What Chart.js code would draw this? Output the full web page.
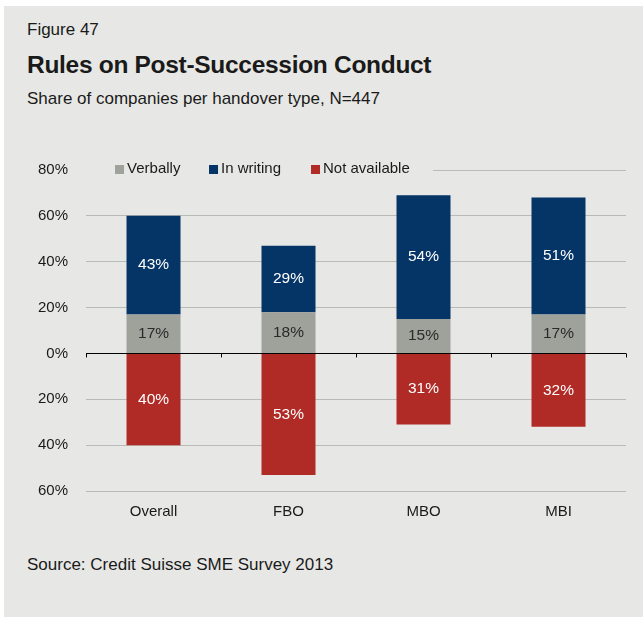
<!DOCTYPE html>
<html>
<head>
<meta charset="utf-8">
<script src="https://cdn.jsdelivr.net/npm/chart.js@4"></script>
<style>
    html, body { margin: 0; padding: 0; background: #ffffff; }
    body { width: 643px; height: 618px; position: relative; overflow: hidden; font-family: "Liberation Sans", Arial, sans-serif; color: #1a1a1a; }
    .panel { position: absolute; left: 4px; top: 6px; width: 639px; height: 611px; background: #e7e8e5; }
    .fig { position: absolute; left: 27px; top: 20px; font-size: 17px; }
    .title { position: absolute; left: 27px; top: 51px; font-size: 24.5px; font-weight: bold; letter-spacing: -0.3px; }
    .subtitle { position: absolute; left: 27px; top: 89px; font-size: 17px; }
    .source { position: absolute; left: 27px; top: 555px; font-size: 17px; }
    .chart-box { position: absolute; left: 0; top: 140px; width: 643px; height: 390px; }
</style>
</head>
<body>
<div class="panel"></div>
<div class="fig">Figure 47</div>
<div class="title">Rules on Post-Succession Conduct</div>
<div class="subtitle">Share of companies per handover type, N=447</div>
<div class="chart-box"><canvas id="chart"></canvas></div>
<div class="source">Source: Credit Suisse SME Survey 2013</div>

<script>
// Datos del gráfico
const categories = ['Overall', 'FBO', 'MBO', 'MBI'];
const verbally = [17, 18, 15, 17];
const inWriting = [43, 29, 54, 51];
const notAvailable = [40, 53, 31, 32];
const yTicks = [80, 60, 40, 20, 0, -20, -40, -60];

const colors = {
    verbally: '#9ea29b',
    writing: '#053466',
    notAvailable: '#b02a26',
    grid: '#b8bbb6',
    bg: '#e7e8e5'
};

const FONT = '"Liberation Sans", Arial, sans-serif';

// Etiquetas dentro de las barras
const barLabels = {
    id: 'barLabels',
    afterDatasetsDraw(chart) {
        const ctx = chart.ctx;
        ctx.save();
        ctx.font = '15.5px ' + FONT;
        ctx.textAlign = 'center';
        ctx.textBaseline = 'middle';
        chart.data.datasets.forEach((ds, i) => {
            const meta = chart.getDatasetMeta(i);
            meta.data.forEach((bar, j) => {
                const v = Math.abs(ds.data[j]);
                const y = (bar.y + bar.base) / 2;
                ctx.fillStyle = ds.labelColor;
                ctx.fillText(v + '%', bar.x, y);
            });
        });
        ctx.restore();
    }
};

// Línea de cero con marcas y leyenda
const axisAndLegend = {
    id: 'axisAndLegend',
    afterDraw(chart) {
        const ctx = chart.ctx;
        const area = chart.chartArea;
        const y0 = chart.scales.y.getPixelForValue(0);
        ctx.save();
        ctx.strokeStyle = '#000000';
        ctx.lineWidth = 1;
        ctx.beginPath();
        ctx.moveTo(area.left, Math.round(y0) + 0.5);
        ctx.lineTo(area.right, Math.round(y0) + 0.5);
        const step = (area.right - area.left) / categories.length;
        for (let i = 0; i <= categories.length; i++) {
            const x = Math.round(area.left + i * step) + 0.5;
            ctx.moveTo(x, y0);
            ctx.lineTo(x, y0 + 4);
        }
        ctx.stroke();

        // Leyenda
        const yTop = chart.scales.y.getPixelForValue(80);
        ctx.fillStyle = colors.bg;
        ctx.fillRect(area.left - 2, yTop - 10, 349, 20);
        ctx.font = '15px ' + FONT;
        ctx.textBaseline = 'middle';
        ctx.textAlign = 'left';
        const items = [
            { text: 'Verbally', color: colors.verbally, x: area.left + 29 },
            { text: 'In writing', color: colors.writing, x: area.left + 123 },
            { text: 'Not available', color: colors.notAvailable, x: area.left + 225 }
        ];
        items.forEach(it => {
            ctx.fillStyle = it.color;
            ctx.fillRect(it.x, yTop - 5, 9, 9);
            ctx.fillStyle = '#1a1a1a';
            ctx.fillText(it.text, it.x + 12, yTop - 1);
        });
        ctx.restore();
    }
};

new Chart(document.getElementById('chart'), {
    type: 'bar',
    data: {
        labels: categories,
        datasets: [
            { label: 'Verbally', data: verbally, backgroundColor: colors.verbally, labelColor: '#2a2a2a' },
            { label: 'In writing', data: inWriting, backgroundColor: colors.writing, labelColor: '#ffffff' },
            { label: 'Not available', data: notAvailable.map(v => -v), backgroundColor: colors.notAvailable, labelColor: '#ffffff' }
        ]
    },
    options: {
        responsive: true,
        maintainAspectRatio: false,
        animation: false,
        layout: { padding: { top: 30, right: 17, bottom: 5, left: 20 } },
        datasets: { bar: { barPercentage: 0.4, categoryPercentage: 1 } },
        plugins: {
            legend: { display: false },
            tooltip: { enabled: false }
        },
        scales: {
            x: {
                stacked: true,
                grid: { display: false },
                border: { display: false },
                ticks: { color: '#1a1a1a', font: { family: FONT, size: 15 }, padding: 4 }
            },
            y: {
                stacked: true,
                min: -60,
                max: 80,
                afterBuildTicks(scale) {
                    scale.ticks = yTicks.map(v => ({ value: v }));
                },
                grid: { color: colors.grid, drawTicks: false },
                border: { display: false },
                ticks: {
                    color: '#1a1a1a',
                    font: { family: FONT, size: 15 },
                    padding: 18,
                    callback: v => Math.abs(v) + '%'
                }
            }
        }
    },
    plugins: [barLabels, axisAndLegend]
});
</script>
</body>
</html>
